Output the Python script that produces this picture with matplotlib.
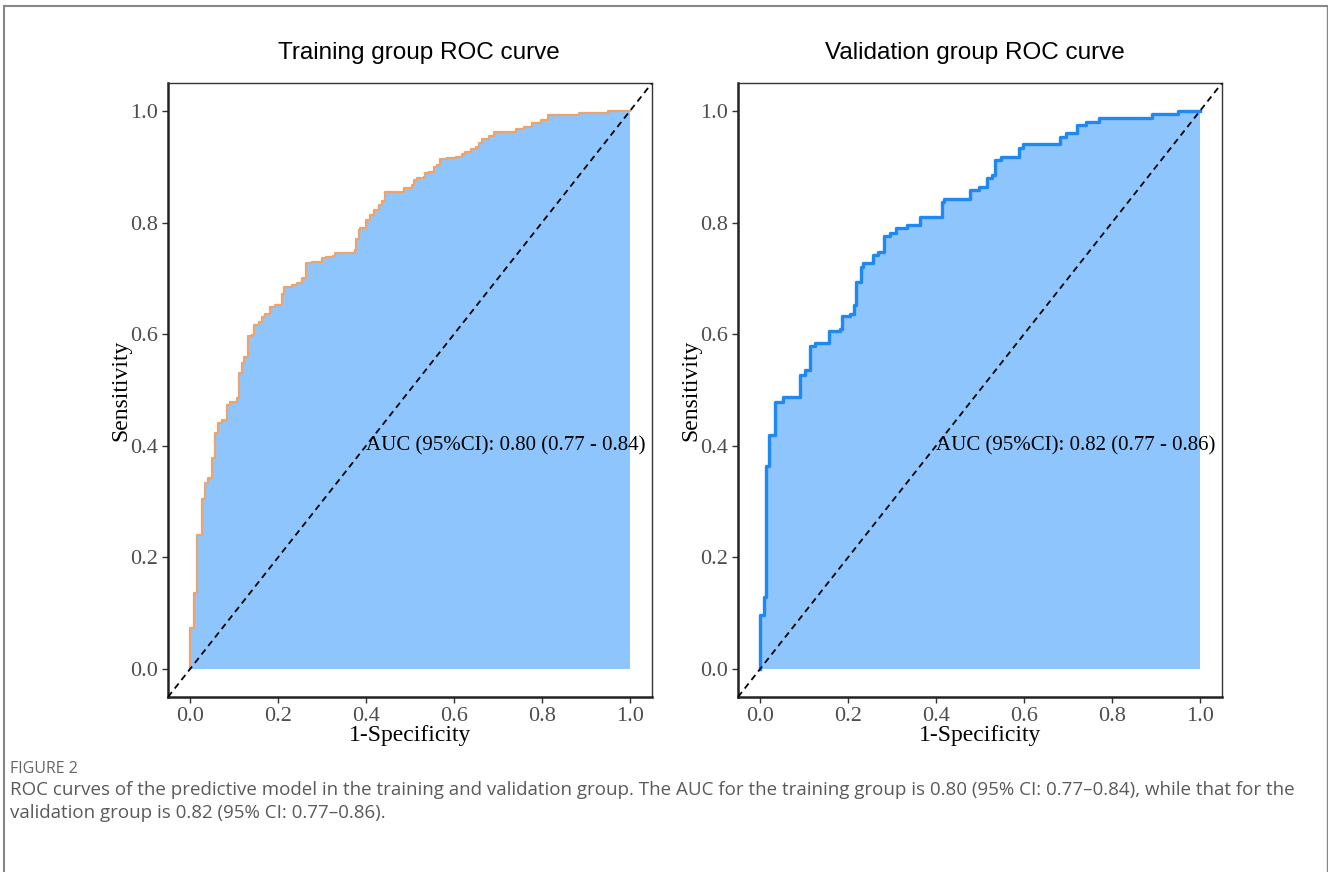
import matplotlib.pyplot as plt
from matplotlib.lines import Line2D

# ROC step corners (fpr at the end of each plateau, tpr level)
train_fpr = [0.0, 0.008, 0.015, 0.027, 0.033, 0.042, 0.049, 0.057, 0.064, 0.072, 0.084,
             0.091, 0.106, 0.112, 0.118, 0.123, 0.131, 0.141, 0.146, 0.156, 0.163,
             0.171, 0.182, 0.194, 0.209, 0.214, 0.232, 0.243, 0.254, 0.263, 0.277,
             0.300, 0.308, 0.326, 0.330, 0.376, 0.377, 0.383, 0.387, 0.399, 0.410,
             0.418, 0.429, 0.437, 0.444, 0.486, 0.505, 0.509, 0.516, 0.531, 0.535,
             0.543, 0.554, 0.562, 0.569, 0.585, 0.604, 0.619, 0.626, 0.638, 0.649,
             0.657, 0.664, 0.680, 0.691, 0.718, 0.740, 0.759, 0.778, 0.797, 0.813,
             0.862, 0.885, 0.949, 1.0]
train_tpr = [0.0, 0.073, 0.136, 0.240, 0.305, 0.334, 0.342, 0.378, 0.423, 0.440, 0.446,
             0.473, 0.479, 0.485, 0.530, 0.548, 0.560, 0.596, 0.599, 0.616, 0.622,
             0.631, 0.636, 0.649, 0.652, 0.672, 0.685, 0.688, 0.692, 0.700, 0.727,
             0.730, 0.736, 0.739, 0.740, 0.745, 0.751, 0.770, 0.787, 0.790, 0.805,
             0.814, 0.823, 0.832, 0.838, 0.855, 0.861, 0.867, 0.876, 0.879, 0.881,
             0.888, 0.891, 0.899, 0.903, 0.913, 0.915, 0.918, 0.923, 0.927, 0.931,
             0.935, 0.942, 0.950, 0.955, 0.962, 0.963, 0.968, 0.972, 0.978, 0.984,
             0.992, 0.993, 0.997, 1.0]

valid_fpr = [0.0, 0.008, 0.014, 0.021, 0.033, 0.053, 0.091, 0.103, 0.114, 0.125, 0.156,
             0.182, 0.186, 0.205, 0.213, 0.219, 0.229, 0.235, 0.257, 0.269, 0.281,
             0.295, 0.308, 0.333, 0.364, 0.414, 0.418, 0.478, 0.497, 0.516, 0.528,
             0.535, 0.547, 0.588, 0.598, 0.682, 0.695, 0.720, 0.740, 0.771, 0.892,
             0.949, 1.0]
valid_tpr = [0.0, 0.097, 0.130, 0.364, 0.419, 0.479, 0.488, 0.527, 0.536, 0.578, 0.584,
             0.605, 0.610, 0.632, 0.637, 0.652, 0.693, 0.721, 0.727, 0.742, 0.748,
             0.776, 0.782, 0.790, 0.796, 0.810, 0.837, 0.843, 0.858, 0.864, 0.879,
             0.885, 0.912, 0.918, 0.933, 0.941, 0.954, 0.961, 0.975, 0.981, 0.988,
             0.995, 1.0]

tick_vals = [0.0, 0.2, 0.4, 0.6, 0.8, 1.0]
tick_labels = ["0.0", "0.2", "0.4", "0.6", "0.8", "1.0"]

panel_titles = ["Training group ROC curve", "Validation group ROC curve"]
auc_labels = ["AUC (95%CI): 0.80 (0.77 - 0.84)", "AUC (95%CI): 0.82 (0.77 - 0.86)"]

caption_head = "FIGURE 2"
caption_lines = [
    "ROC curves of the predictive model in the training and validation group. The AUC for the training group is 0.80 (95% CI: 0.77\u20130.84), while that for the",
    "validation group is 0.82 (95% CI: 0.77\u20130.86).",
]

W, H = 1328, 872
FILL = "#8FC5FD"
SERIF = "Liberation Serif"

fig = plt.figure(figsize=(W / 100, H / 100), dpi=100)


def add_panel(left, top, right, bottom):
    return fig.add_axes([left / W, 1 - bottom / H, (right - left) / W, (bottom - top) / H])


panels = [
    (add_panel(168, 83, 652, 697), train_fpr, train_tpr, "#E9A470", 1.6, 419),
    (add_panel(738, 83, 1222, 697), valid_fpr, valid_tpr, "#1E88F5", 2.4, 975),
]

for i, (ax, fpr, tpr, line_col, lw, title_x) in enumerate(panels):
    ax.fill_between(fpr, tpr, step="pre", color=FILL, lw=0, zorder=1)
    ax.plot(fpr, tpr, drawstyle="steps-pre", color=line_col, lw=lw, zorder=3)
    ax.text(0.4, 0.4, auc_labels[i], fontsize=15, family=SERIF, color="black",
            ha="left", va="center", zorder=2)
    ax.axline((0, 0), (1, 1), color="black", lw=1.3, ls=(0, (3.5, 2.5)), zorder=4)

    ax.set_xlim(-0.05, 1.05)
    ax.set_ylim(-0.05, 1.05)
    ax.set_xticks(tick_vals)
    ax.set_xticklabels(tick_labels)
    ax.set_yticks(tick_vals)
    ax.set_yticklabels(tick_labels)
    ax.tick_params(length=4, width=1, color="#333333", labelcolor="#4D4D4D",
                   labelsize=16, pad=3)
    for lab in ax.get_xticklabels() + ax.get_yticklabels():
        lab.set_family(SERIF)

    ax.set_xlabel("1-Specificity", fontsize=17, family=SERIF, color="black")
    ax.set_ylabel("Sensitivity", fontsize=17, family=SERIF, color="black")
    ax.xaxis.set_label_coords(0.5, -(735 - 697) / 614)
    ax.yaxis.set_label_coords(-(168 - 121) / 484, 0.5)
    ax.xaxis.label.set_verticalalignment("center")
    ax.yaxis.label.set_verticalalignment("center")

    for side in ["left", "bottom"]:
        ax.spines[side].set_linewidth(1.8)
        ax.spines[side].set_color("#222222")
    for side in ["top", "right"]:
        ax.spines[side].set_linewidth(1.0)
        ax.spines[side].set_color("#333333")

    fig.text(title_x / W, 1 - 59 / H, panel_titles[i], fontsize=17.5,
             family="Liberation Sans", color="black", ha="center", va="baseline")

# caption
fig.text(10 / W, 1 - 773 / H, caption_head, fontsize=11.5, family="Open Sans",
         color="#666666", va="baseline")
for k, line in enumerate(caption_lines):
    fig.text(10 / W, 1 - (795 + 23 * k) / H, line, fontsize=13.5, family="Open Sans",
             color="#5A5A5A", va="baseline")

# outer frame (open at the bottom)
frame_col = "#888888"
fig.add_artist(Line2D([4 / W, 4 / W], [0, 1 - 6 / H], transform=fig.transFigure, color=frame_col, lw=1.5))
fig.add_artist(Line2D([4 / W, 1326.5 / W], [1 - 6 / H, 1 - 6 / H], transform=fig.transFigure, color=frame_col, lw=1.5))
fig.add_artist(Line2D([1326.5 / W, 1326.5 / W], [0, 1 - 6 / H], transform=fig.transFigure, color=frame_col, lw=1.0))

fig.savefig("out.png", dpi=100)
